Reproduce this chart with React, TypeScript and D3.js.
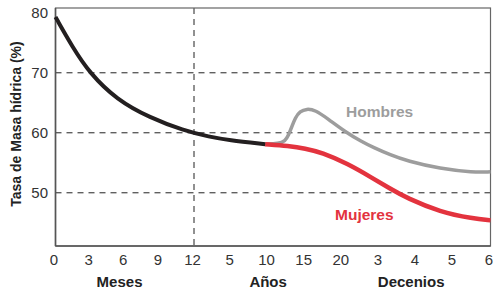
import * as React from 'react';
import * as d3 from 'd3';

// x positions are tick-slot indices: 0..4 = months 0..12, 4..8 = years 5..20, 8..12 = decades 3..6
const tickLabels = ['0', '3', '6', '9', '12', '5', '10', '15', '20', '3', '4', '5', '6'];
const yTicks = [50, 60, 70, 80];
const sectionLabels = ['Meses', 'Años', 'Decenios'];
const sectionAt = [1.85, 6.0, 9.86];

const infantX = [0, 0.5, 0.98, 1.77, 2.73, 3.69, 4.43, 4.92, 5.92];
const infantY = [79.3, 74.2, 70, 65.5, 62.5, 60.4, 59.3, 58.8, 58.1];

const menX = [5.92, 6.28, 6.46, 6.55, 6.64, 6.73, 6.86, 7.04, 7.27, 7.62, 8.07, 8.53, 8.83, 9.3, 9.75, 10.64, 11.53, 12];
const menY = [58.1, 58.2, 58.6, 59.6, 61.0, 62.5, 63.6, 64.0, 63.8, 62.3, 60.2, 58.5, 57.6, 56.3, 55.3, 54.0, 53.4, 53.5];

const womenX = [5.92, 6.55, 7.0, 7.45, 8.13, 8.83, 9.29, 9.75, 10.64, 11.53, 12];
const womenY = [58.1, 57.8, 57.4, 56.7, 54.9, 52.4, 50.7, 49.1, 46.8, 45.7, 45.4];

const W = 493;
const H = 293;
const margin = { top: 8, right: 2.5, bottom: 47, left: 55.5 };
const font = '"Liberation Sans", Arial, sans-serif';

const x = d3.scaleLinear()
  .domain([0, 4, 12])
  .range([margin.left, 194, W - margin.right]);

const y = d3.scaleLinear()
  .domain([41.13, 80.8])
  .range([H - margin.bottom, margin.top]);

const line = d3.line<[number, number]>()
  .x((d) => x(d[0]))
  .y((d) => y(d[1]))
  .curve(d3.curveBasis);

const zip = (xs: number[], ys: number[]) => xs.map((v, i) => [v, ys[i]] as [number, number]);

export default function App() {
  const left = margin.left;
  const right = W - margin.right;
  const top = margin.top;
  const bottom = H - margin.bottom;

  return (
    <div style={{ position: 'fixed', left: 0, top: 0 }}>
      <svg width={W} height={H} style={{ display: 'block', background: '#fff' }}>
        {/* grid */}
        {yTicks.filter((t) => t < 80).map((t) => (
          <line key={t} x1={left} x2={right} y1={y(t)} y2={y(t)}
            stroke="#222" strokeWidth={1} strokeDasharray="6,5" />
        ))}
        <line x1={x(4)} x2={x(4)} y1={top} y2={bottom}
          stroke="#222" strokeWidth={1} strokeDasharray="6,5" />

        {/* frame */}
        <rect x={left} y={top} width={right - left} height={bottom - top}
          fill="none" stroke="#666" strokeWidth={1.2} />
        <line x1={left} x2={left} y1={top} y2={bottom} stroke="#555" strokeWidth={1.6} />
        <line x1={left} x2={right} y1={bottom} y2={bottom} stroke="#555" strokeWidth={1.6} />

        {/* curves */}
        <path d={line(zip(menX, menY)) || ''} fill="none" stroke="#9d9d9d" strokeWidth={3.5} />
        <path d={line(zip(womenX, womenY)) || ''} fill="none" stroke="#e3333e" strokeWidth={4.5} />
        <path d={line(zip(infantX, infantY)) || ''} fill="none" stroke="#231f20" strokeWidth={4} />

        {/* series labels */}
        <text x={346} y={117} fontFamily={font} fontSize={15.5} fontWeight="bold" fill="#9d9d9d">Hombres</text>
        <text x={335} y={220} fontFamily={font} fontSize={15.5} fontWeight="bold" fill="#e3333e">Mujeres</text>

        {/* y ticks */}
        {yTicks.map((t) => (
          <text key={t} x={48} y={y(t)} dy="0.36em" textAnchor="end"
            fontFamily={font} fontSize={15} fill="#333">{t}</text>
        ))}

        {/* x ticks */}
        {tickLabels.map((t, i) => (
          <text key={i} x={x(i) - 1.5} y={265} textAnchor="middle"
            fontFamily={font} fontSize={15} fill="#333">{t}</text>
        ))}

        {/* section labels */}
        {sectionLabels.map((s, i) => (
          <text key={s} x={x(sectionAt[i])} y={287} textAnchor="middle"
            fontFamily={font} fontSize={15} fontWeight="bold" fill="#222">{s}</text>
        ))}

        {/* y title */}
        <text transform="translate(21,124) rotate(-90)" textAnchor="middle"
          fontFamily={font} fontSize={14} fontWeight="bold" fill="#222">Tasa de Masa hídrica (%)</text>
      </svg>
    </div>
  );
}
